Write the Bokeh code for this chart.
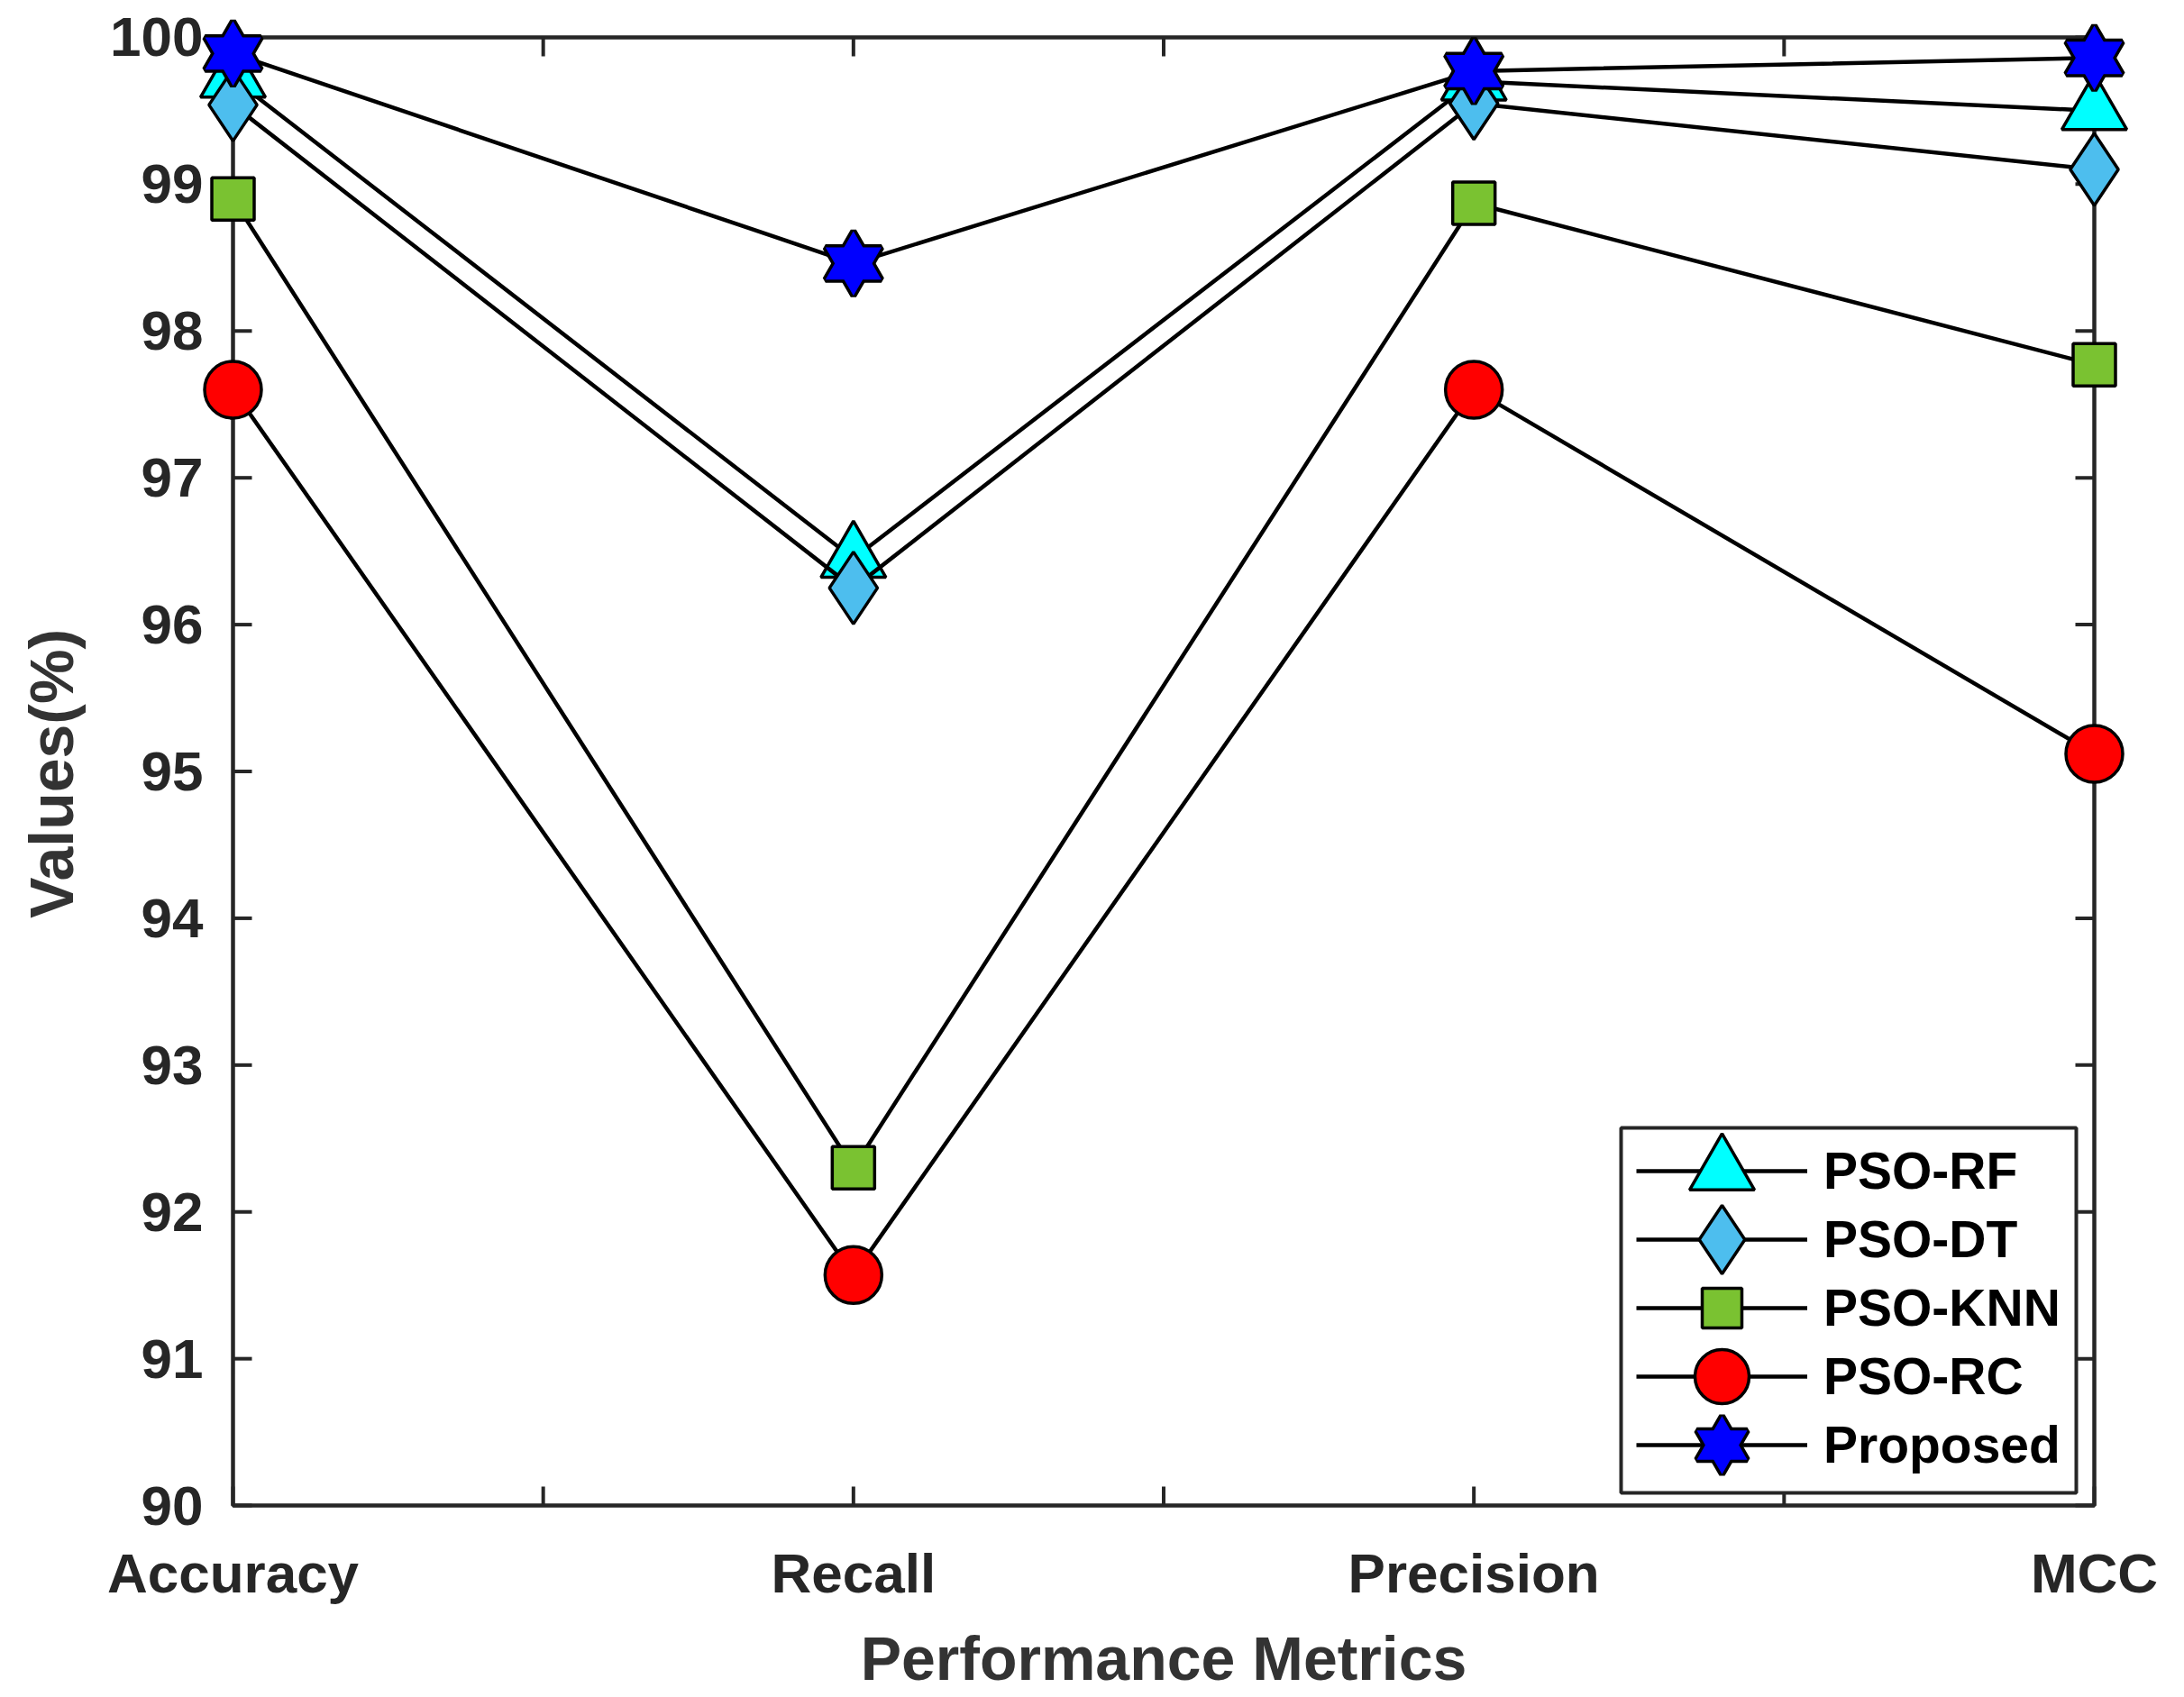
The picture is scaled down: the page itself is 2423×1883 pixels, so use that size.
import math
from bokeh.plotting import figure
from bokeh.models import Range1d, FixedTicker, BoxAnnotation, Legend, LegendItem
from bokeh.embed import file_html
from bokeh.resources import INLINE

# ---------------- data ----------------
metrics = ["Accuracy", "Recall", "Precision", "MCC"]
x_pos = [1, 2, 3, 4]
pso_rf = [99.72, 96.45, 99.70, 99.50]
pso_dt = [99.54, 96.25, 99.55, 99.10]
pso_knn = [98.90, 92.30, 98.87, 97.77]
pso_rc = [97.60, 91.57, 97.60, 95.12]
proposed = [99.89, 98.46, 99.77, 99.86]
series_names = ["PSO-RF", "PSO-DT", "PSO-KNN", "PSO-RC", "Proposed"]
y_ticks = list(range(90, 101))
x_ticks = [1, 1.5, 2, 2.5, 3, 3.5, 4]
x_lim = (1, 4)
y_lim = (90, 100)

# ---------------- layout ----------------
W, H = 2415, 1880
BL, BR, BT, BB = 220, 54, 16, 176
FW = W - BL - BR
FH = H - BT - BB
PAD_L, PAD_R, PAD_T, PAD_B = 38, 38, 25, 30
xs = (FW - PAD_L - PAD_R) / (x_lim[1] - x_lim[0])
ys = (FH - PAD_T - PAD_B) / (y_lim[1] - y_lim[0])

FONT = "Liberation Sans"
AX_COLOR = "#262626"

p = figure(width=W, height=H,
           x_range=Range1d(x_lim[0] - PAD_L / xs, x_lim[1] + PAD_R / xs),
           y_range=Range1d(y_lim[0] - PAD_B / ys, y_lim[1] + PAD_T / ys),
           output_backend="svg", toolbar_location=None,
           min_border_left=BL, min_border_right=BR,
           min_border_top=BT, min_border_bottom=BB)
p.outline_line_alpha = 0
p.grid.visible = False
p.background_fill_color = "white"
p.border_fill_color = "white"

# axes (labels only; box and ticks drawn at the true limits)
for ax in (p.xaxis[0], p.yaxis[0]):
    ax.axis_line_alpha = 0
    ax.major_tick_in = 0
    ax.major_tick_out = 0
    ax.minor_tick_in = 0
    ax.minor_tick_out = 0
    ax.major_label_text_font = FONT
    ax.major_label_text_font_style = "bold"
    ax.major_label_text_font_size = "62px"
    ax.major_label_text_color = AX_COLOR
    ax.axis_label_text_font = FONT
    ax.axis_label_text_font_style = "bold"
    ax.axis_label_text_font_size = "68px"
    ax.axis_label_text_color = "#333333"

p.xaxis.ticker = FixedTicker(ticks=x_pos)
p.xaxis.major_label_overrides = {x: m for x, m in zip(x_pos, metrics)}
p.xaxis.axis_label = "Performance Metrics"
p.xaxis.major_label_standoff = 10
p.xaxis.axis_label_standoff = 19

p.yaxis.ticker = FixedTicker(ticks=y_ticks)
p.yaxis.axis_label = "Values(%)"
p.yaxis.major_label_standoff = -5
p.yaxis.axis_label_standoff = 24

# axes box
p.add_layout(BoxAnnotation(left=x_lim[0], right=x_lim[1], bottom=y_lim[0], top=y_lim[1],
                           fill_alpha=0, line_color=AX_COLOR, line_alpha=1.0,
                           line_width=4.5, level="underlay"))

# inward tick marks on all four sides
TL = 21
TW = 4
p.ray(x=[x_lim[0]] * len(y_ticks), y=y_ticks, length=TL, angle=0, length_units="screen",
      line_color=AX_COLOR, line_width=TW)
p.ray(x=[x_lim[1]] * len(y_ticks), y=y_ticks, length=TL, angle=math.pi, length_units="screen",
      line_color=AX_COLOR, line_width=TW)
p.ray(x=x_ticks, y=[y_lim[0]] * len(x_ticks), length=TL, angle=math.pi / 2, length_units="screen",
      line_color=AX_COLOR, line_width=TW)
p.ray(x=x_ticks, y=[y_lim[1]] * len(x_ticks), length=TL, angle=-math.pi / 2, length_units="screen",
      line_color=AX_COLOR, line_width=TW)

LW = 4.5
MW = 3.5
items = []

# PSO-RF
l = p.line(x_pos, pso_rf, line_color="black", line_width=LW)
m = p.scatter(x_pos, pso_rf, marker="triangle", size=72, fill_color="#00FFFF",
              line_color="black", line_width=MW)
items.append(LegendItem(label=series_names[0], renderers=[l, m]))

# PSO-DT
l = p.line(x_pos, pso_dt, line_color="black", line_width=LW)
m = p.scatter(x_pos, pso_dt, marker="diamond", size=80, fill_color="#4DBEEE",
              line_color="black", line_width=MW)
items.append(LegendItem(label=series_names[1], renderers=[l, m]))

# PSO-KNN
l = p.line(x_pos, pso_knn, line_color="black", line_width=LW)
m = p.scatter(x_pos, pso_knn, marker="square", size=47, fill_color="#7AC231",
              line_color="black", line_width=MW)
items.append(LegendItem(label=series_names[2], renderers=[l, m]))

# PSO-RC
l = p.line(x_pos, pso_rc, line_color="black", line_width=LW)
m = p.scatter(x_pos, pso_rc, marker="circle", size=63, fill_color="#FF0000",
              line_color="black", line_width=MW)
items.append(LegendItem(label=series_names[3], renderers=[l, m]))

# Proposed (hexagram = two overlaid triangles)
l = p.line(x_pos, proposed, line_color="black", line_width=LW)
h1 = p.scatter(x_pos, proposed, marker="triangle", size=62, fill_color="#0000FF",
               line_color="black", line_width=2 * MW)
h2 = p.scatter(x_pos, proposed, marker="inverted_triangle", size=62, fill_color="#0000FF",
               line_color="black", line_width=2 * MW)
h3 = p.scatter(x_pos, proposed, marker="triangle", size=62, fill_color="#0000FF", line_alpha=0)
h4 = p.scatter(x_pos, proposed, marker="inverted_triangle", size=62, fill_color="#0000FF", line_alpha=0)
items.append(LegendItem(label=series_names[4], renderers=[l, h1, h2, h3, h4]))

# legend frame (page px 1798..2303 x 1255..1660), relative to the frame's bottom-left
frame_left = BL
frame_bottom = BT + FH
p.add_layout(BoxAnnotation(left=1798 - frame_left, right=2303 - frame_left,
                           bottom=frame_bottom - 1660, top=frame_bottom - 1255,
                           left_units="screen", right_units="screen",
                           top_units="screen", bottom_units="screen",
                           fill_color="white", fill_alpha=1.0,
                           line_color=AX_COLOR, line_alpha=1.0, line_width=4))

# one legend per row so each row can carry its own marker size
row_centers = [1303, 1379, 1455, 1531, 1607]
glyph_heights = [180, 200, 110, 150, 140]
for item, rc, gh in zip(items, row_centers, glyph_heights):
    lg = Legend(items=[item],
                location=(1815 - frame_left, frame_bottom - (rc + gh // 2)),
                glyph_width=190, glyph_height=gh, label_height=gh,
                spacing=0, padding=0, margin=0, label_standoff=18,
                label_text_font=FONT, label_text_font_style="bold",
                label_text_font_size="57px", label_text_color="black",
                background_fill_alpha=0, border_line_alpha=0)
    p.add_layout(lg)

open("out.html", "w").write(file_html(p, INLINE))
